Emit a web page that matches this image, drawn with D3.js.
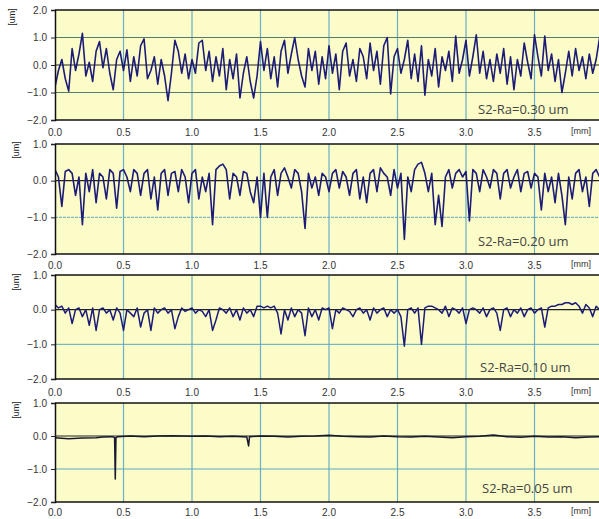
<!DOCTYPE html>
<html><head><meta charset="utf-8">
<script src="https://cdn.jsdelivr.net/npm/d3@7"></script>
<style>
html,body{margin:0;padding:0;background:#fff;overflow:hidden}
svg{display:block}
</style></head>
<body>
<svg id="chart" width="599" height="519"></svg>
<script>
// ---- data ----
const xTicks = [0.0, 0.5, 1.0, 1.5, 2.0, 2.5, 3.0, 3.5];
const yTicksTall = [2.0, 1.0, 0.0, -1.0, -2.0];
const yTicksShort = [1.0, 0.0, -1.0, -2.0];
const labels = ["S2-Ra=0.30 um", "S2-Ra=0.20 um", "S2-Ra=0.10 um", "S2-Ra=0.05 um"];
const sampleStep = 0.025; // mm between samples

const profileRa030 = [
 -0.8,-0.2,0.2,-0.5,-0.95,0.6,-0.2,0.4,1.15,-0.4,
 0.1,-0.6,0.5,0.85,-0.1,0.6,-0.3,-0.9,0.2,0.5,
 -0.2,0.55,-0.6,0.3,-0.4,0.7,0.95,-0.5,-0.2,0.3,
 -0.7,0.2,-0.4,-1.3,-0.3,0.9,0.5,-0.3,0.4,-0.5,
 0.2,-0.3,0.8,0.9,-0.2,0.5,-0.6,0.3,-0.4,0.6,
 -0.9,0.2,-0.5,0.4,-1.2,-0.3,0.3,-0.6,-1.2,-0.4,
 0.85,-0.2,0.6,-0.5,0.3,-0.8,0.5,0.9,-0.3,0.4,
 1.0,0.2,-0.4,-0.8,0.6,-0.2,0.5,-0.7,0.3,-0.5,
 0.7,-0.3,0.4,-0.9,0.5,0.8,-0.4,0.2,-0.6,0.6,
 0.3,-0.5,0.8,-0.2,0.5,-0.7,0.7,1.0,-1.05,0.3,
 0.6,-0.3,0.2,0.9,-0.5,0.4,-0.6,0.7,-1.1,0.2,
 -0.4,0.6,-0.8,0.3,-0.2,0.5,-0.6,1.05,-0.3,0.2,
 0.9,-0.4,0.3,1.1,-0.3,0.5,-0.5,0.2,-0.6,0.4,
 -0.3,0.6,-0.7,0.3,-0.9,0.2,-0.4,0.8,0.1,-0.5,
 1.1,0.3,-0.4,1.05,-0.2,0.4,-0.6,0.2,-1.0,-0.3,
 0.5,-0.4,0.6,-0.2,0.3,-0.5,0.4,-0.3,0.2,1.0
];
const profileRa020 = [
 0.3,0.1,-0.7,0.25,0.3,0.2,-0.4,0.1,-1.2,0.2,
 -0.3,0.3,-0.6,0.2,0.1,-0.5,0.3,0.2,-0.75,0.25,
 0.3,0.1,-0.3,0.3,0.2,-0.4,0.2,0.3,-0.5,0.1,
 -0.8,0.2,0.3,-0.4,0.2,0.25,-0.3,0.3,0.1,-0.6,
 0.2,0.3,-0.5,0.1,-0.3,0.2,-1.2,0.3,0.4,0.45,
 0.3,-0.5,0.2,0.1,-0.4,0.25,0.2,-0.3,-0.6,0.1,
 -1.0,0.2,-1.0,0.1,0.3,-0.4,0.2,0.35,0.1,-0.2,
 0.3,0.2,-0.3,-1.3,0.2,-0.2,0.1,-0.4,0.2,0.1,
 -0.3,0.2,0.3,-0.2,0.25,0.1,-0.4,0.2,0.3,-0.5,
 0.1,-0.6,0.2,0.3,-0.3,0.35,0.2,0.1,-0.4,0.3,
 -0.2,0.2,-1.6,0.1,-0.3,0.3,0.45,0.5,0.2,-0.3,
 0.2,-1.2,-0.4,-1.25,0.1,0.3,-0.2,0.2,0.3,0.1,
 0.25,-1.1,0.3,0.2,-0.3,0.3,0.1,-0.2,0.3,0.2,
 -0.5,0.2,0.3,-0.2,0.1,0.3,-0.3,0.2,0.25,-0.2,
 0.2,0.1,-0.8,0.2,-0.3,0.1,-0.6,0.2,-0.4,-1.2,
 0.1,-0.5,0.2,0.3,-0.3,0.1,-0.7,0.2,0.3,0.1
];
const profileRa010 = [
 0.15,0.05,0.1,-0.1,0.05,-0.4,0.0,0.05,-0.2,0.0,
 -0.45,0.05,-0.6,0.0,0.05,-0.1,0.0,-0.3,0.05,-0.1,
 -0.6,0.0,-0.1,-0.2,0.05,-0.5,-0.1,0.0,-0.6,0.05,
 -0.1,0.0,0.05,-0.1,0.0,-0.55,-0.2,0.05,-0.05,0.0,
 0.05,-0.1,0.0,-0.05,-0.2,0.0,-0.6,-0.3,0.05,0.0,
 -0.1,0.05,-0.2,0.0,-0.3,0.05,-0.1,0.0,-0.2,0.1,
 0.1,0.05,0.1,0.05,0.1,-0.1,-0.7,0.0,-0.3,0.05,
 -0.2,0.0,-0.1,-0.75,0.05,-0.2,0.0,-0.3,0.05,0.0,
 0.05,-0.55,0.0,-0.1,0.05,0.0,-0.05,-0.2,0.0,0.05,
 -0.1,0.0,-0.3,0.05,-0.1,0.0,0.05,-0.2,0.0,-0.1,
 0.0,-0.2,-1.05,0.0,0.05,-0.1,0.05,-1.0,0.05,0.1,
 0.1,0.05,0.0,-0.1,0.1,-0.2,0.05,0.0,-0.1,0.05,
 -0.4,0.0,0.05,0.0,-0.1,0.05,-0.2,0.0,0.05,-0.1,
 -0.6,0.0,0.05,-0.2,0.0,-0.1,0.05,-0.2,0.0,0.05,
 -0.1,0.0,0.05,-0.5,0.05,0.1,0.1,0.15,0.15,0.2,
 0.2,0.15,0.2,0.1,-0.1,0.15,0.05,-0.2,0.1,0.0
];
// [x mm, height um]
const profileRa005 = [
 [0,-0.05],[0.1,-0.08],[0.2,-0.06],[0.3,-0.05],[0.35,-0.03],[0.42,-0.02],[0.435,-0.05],[0.44,-1.3],[0.445,-0.05],[0.46,-0.02],
 [0.55,0.0],[0.65,-0.02],[0.75,0.0],[0.85,0.01],[1.0,-0.01],[1.1,0.0],[1.2,-0.02],[1.3,-0.01],[1.4,-0.03],[1.413,-0.3],[1.42,-0.02],
 [1.5,0.0],[1.6,-0.01],[1.7,-0.03],[1.8,-0.01],[1.9,0.0],[2.0,0.02],[2.1,-0.01],[2.2,-0.02],[2.3,-0.03],[2.4,0.0],[2.5,-0.02],
 [2.6,-0.03],[2.7,-0.01],[2.8,-0.03],[2.9,-0.05],[3.0,-0.02],[3.1,-0.01],[3.2,0.03],[3.3,-0.02],[3.4,-0.04],[3.5,-0.01],
 [3.6,-0.03],[3.7,-0.02],[3.8,-0.05],[3.9,-0.03],[4.0,-0.02]
];

// ---- layout ----
const svg = d3.select("#chart");
const left = 55, right = 603;
const x = d3.scaleLinear().domain([0, 4.0]).range([left, right]);

const panels = [
  {pts: profileRa030.map((v,i)=>[i*sampleStep, v]), dom:[-2,2], top:10, bottom:120, ticks:yTicksTall, lab:labels[0], labY:114, xLabY:136, unitY:17, color:"#1c1c78", w:1.6},
  {pts: profileRa020.map((v,i)=>[i*sampleStep, v]), dom:[-2,1], top:144, bottom:254, ticks:yTicksShort, lab:labels[1], labY:246, xLabY:269, unitY:150, color:"#1c1c78", w:1.6},
  {pts: profileRa010.map((v,i)=>[i*sampleStep, v]), dom:[-2,1], top:275, bottom:379, ticks:yTicksShort, lab:labels[2], labY:372, xLabY:396, unitY:282, color:"#1c1c78", w:1.5},
  {pts: profileRa005, dom:[-2,1], top:403, bottom:502, ticks:yTicksShort, lab:labels[3], labY:493, xLabY:516, unitY:410, color:"#181830", w:1.5}
];

const defs = svg.append("defs");

panels.forEach((p, k) => {
  const y = d3.scaleLinear().domain(p.dom).range([p.bottom, p.top]);
  const g = svg.append("g");
  g.append("rect").attr("x", left).attr("y", p.top).attr("width", right-left).attr("height", p.bottom-p.top)
    .attr("fill", "#fcfcc8");
  g.selectAll(".vg").data(xTicks.filter(t=>t>0)).join("line")
    .attr("x1", d=>x(d)).attr("x2", d=>x(d)).attr("y1", p.top).attr("y2", p.bottom)
    .attr("stroke", "#6aaec8").attr("stroke-width", 1.2);
  const inner = p.ticks.filter(t => t > p.dom[0] && t < p.dom[1]);
  g.selectAll(".hg").data(inner).join("line")
    .attr("x1", left).attr("x2", right).attr("y1", d=>y(d)).attr("y2", d=>y(d))
    .attr("stroke", d => d === 0 ? "#222" : (k === 0 ? "#587a6a" : "#5aa8c0"))
    .attr("stroke-width", d => d === 0 ? 1.2 : 1)
    .attr("stroke-dasharray", d => (d !== 0 && k === 1) ? "3,1" : null);
  const cid = "clip" + k;
  defs.append("clipPath").attr("id", cid).append("rect")
    .attr("x", left).attr("y", p.top).attr("width", right-left).attr("height", p.bottom-p.top);
  const line = d3.line().x(d=>x(d[0])).y(d=>y(d[1]));
  g.append("path").datum(p.pts).attr("d", line).attr("fill", "none")
    .attr("stroke", p.color).attr("stroke-width", p.w).attr("stroke-linejoin", "round")
    .attr("clip-path", `url(#${cid})`);
  g.append("line").attr("x1", left).attr("x2", right).attr("y1", p.top).attr("y2", p.top).attr("stroke", "#111").attr("stroke-width", 1.5);
  g.append("line").attr("x1", left).attr("x2", right).attr("y1", p.bottom).attr("y2", p.bottom).attr("stroke", "#111").attr("stroke-width", 1.5);
  const ya = d3.axisLeft(y).tickValues(p.ticks).tickSize(4).tickFormat(d3.format(".1f"));
  const yg = g.append("g").attr("transform", `translate(${left},0)`).call(ya);
  yg.select(".domain").attr("stroke", "#111").attr("stroke-width", 1.5);
  yg.selectAll(".tick line").attr("stroke", "#222");
  yg.selectAll(".tick text").attr("font-family", "Liberation Sans, Arial, sans-serif").attr("font-size", 10).attr("fill", "#333").attr("x", -8);
  g.selectAll(".xl").data(xTicks).join("text")
    .attr("x", d=>x(d)).attr("y", p.xLabY).attr("text-anchor", "middle")
    .attr("font-family", "Liberation Sans, Arial, sans-serif").attr("font-size", 10).attr("fill", "#333")
    .text(d=>d3.format(".1f")(d));
  g.append("text").attr("x", 571).attr("y", p.xLabY - 2).attr("font-family", "Liberation Sans, Arial, sans-serif")
    .attr("font-size", 9).attr("fill", "#333").text("[mm]");
  g.append("text").attr("transform", `translate(${k===0?15:19},${p.unitY}) rotate(-90)`).attr("text-anchor", "middle")
    .attr("font-family", "Liberation Sans, Arial, sans-serif").attr("font-size", 9).attr("fill", "#222").text("[um]");
  g.append("text").attr("x", 478 + (k>=2 ? 2 : 0) + (k===3 ? 2 : 0)).attr("y", p.labY)
    .attr("font-family", "Open Sans, DejaVu Sans, sans-serif").attr("font-size", 13).attr("fill", "#444")
    .text(p.lab);
});
</script>
</body></html>
